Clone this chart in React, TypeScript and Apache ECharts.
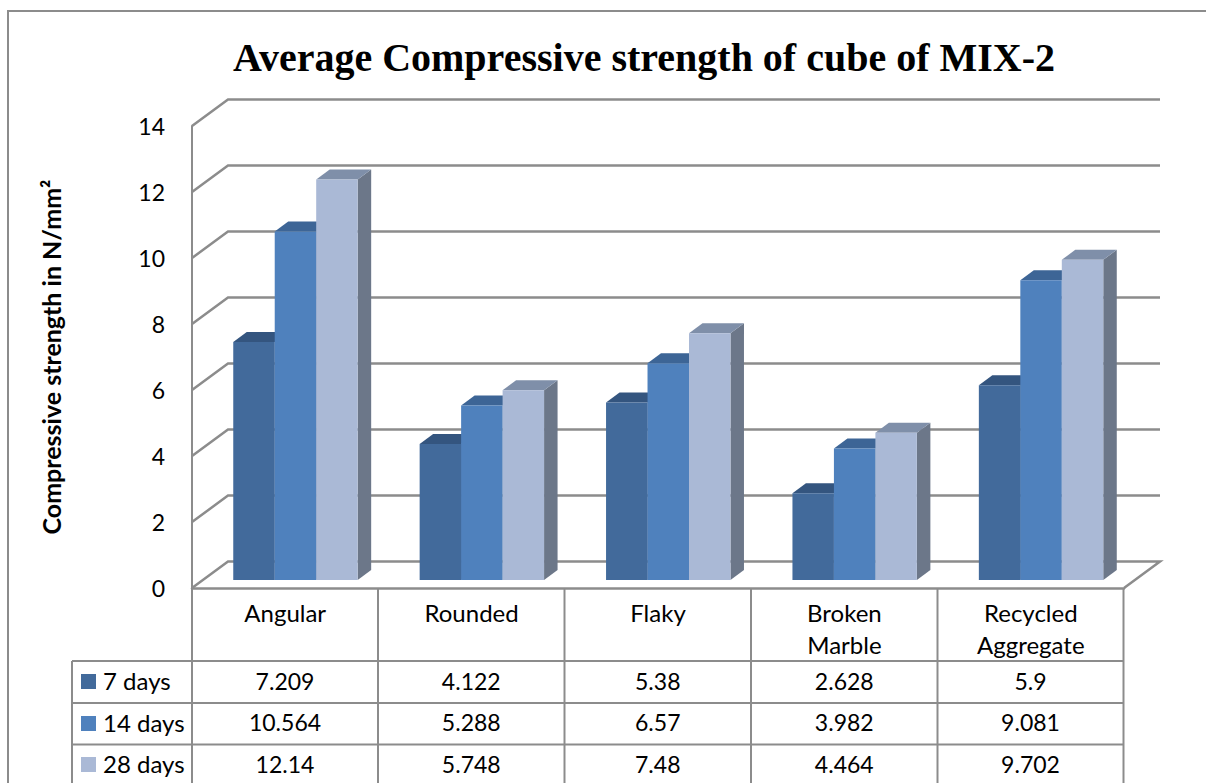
import React, { useEffect, useRef } from "react";
import * as echarts from "echarts";

const categories = ["Angular", "Rounded", "Flaky", "Broken\nMarble", "Recycled\nAggregate"];
const seriesNames = ["7 days", "14 days", "28 days"];
const days7 = [7.209, 4.122, 5.38, 2.628, 5.9];
const days14 = [10.564, 5.288, 6.57, 3.982, 9.081];
const days28 = [12.14, 5.748, 7.48, 4.464, 9.702];
const tableText7 = ["7.209", "4.122", "5.38", "2.628", "5.9"];
const tableText14 = ["10.564", "5.288", "6.57", "3.982", "9.081"];
const tableText28 = ["12.14", "5.748", "7.48", "4.464", "9.702"];
const yTicks = [0, 2, 4, 6, 8, 10, 12, 14];

const FONT = "Lato";
const LINE = "#8c8c8c";
const GL = 192, GR = 1124, GT = 126, GB = 588;
const DX = 36, DY = 26.4;
const frontColors = ["#426a9b", "#4f81bd", "#aab9d6"];
const topColors = ["#34557f", "#3d6596", "#7f8fa9"];
const sideColors = ["#34507a", "#3d6596", "#6c7789"];
const columnXs = [192, 378, 564.5, 751, 937.5, 1123.5];
const rowYs = [661, 703, 744.5];
const rowCentres = [680.5, 722, 763.5];

function wallRender(params: any, api: any) {
  const cs = params.coordSys;
  const y = api.coord([0, api.value(0)])[1];
  const x0 = cs.x;
  const x1 = cs.x + cs.width;
  const pts = [[x0, y], [x0 + DX, y - DY], [x1 + DX, y - DY]];
  if (api.value(0) === 0) pts.push([x1, y]);
  return {
    type: "polyline",
    shape: { points: pts },
    style: { stroke: LINE, lineWidth: 2.5, fill: "none" },
  };
}

function barRender(idx: number) {
  return (_params: any, api: any) => {
    const cat = api.value(0);
    const p = api.coord([cat, api.value(1)]);
    const base = api.coord([cat, 0]);
    const band = api.size([1, 0])[0];
    const w = band * 0.2225;
    const left = p[0] - band * 0.5 + band * 0.2213 + idx * w;
    const right = left + w;
    const top = p[1] - 8;
    const bottom = base[1] - 8;
    const dx = 13.5, dy = 10;
    return {
      type: "group",
      children: [
        {
          type: "polygon",
          shape: { points: [[right, top], [right + dx, top - dy], [right + dx, bottom - dy], [right, bottom]] },
          style: { fill: sideColors[idx] },
        },
        {
          type: "polygon",
          shape: { points: [[left, top], [left + dx, top - dy], [right + dx, top - dy], [right, top]] },
          style: { fill: topColors[idx] },
        },
        {
          type: "rect",
          shape: { x: left, y: top, width: w, height: bottom - top },
          style: { fill: frontColors[idx] },
        },
      ],
    };
  };
}

function line(x1: number, y1: number, x2: number, y2: number, lineWidth = 2) {
  return { type: "line", shape: { x1, y1, x2, y2 }, style: { stroke: LINE, lineWidth }, silent: true };
}

function cellText(x: number, y: number, text: string, align = "center", size = 23) {
  return {
    type: "text",
    x,
    y,
    style: { text, fill: "#000", font: `${size}px ${FONT}`, align, verticalAlign: "middle" },
    silent: true,
  };
}

export default function App() {
  const ref = useRef<HTMLDivElement>(null);
  useEffect(() => {
    const chart = echarts.init(ref.current!, undefined, { renderer: "svg" });
    const rows = [tableText7, tableText14, tableText28];
    const graphic: any[] = [
      { type: "rect", shape: { x: 8, y: 11, width: 1300, height: 900 }, style: { fill: "none", stroke: LINE, lineWidth: 2 } },
      ...columnXs.map((x) => line(x, 588, x, 783)),
      line(72, 661, 72, 783),
      ...rowYs.map((y) => line(72, y, 1123.5, y)),
    ];
    rows.forEach((vals, r) => {
      graphic.push({
        type: "rect",
        shape: { x: 81, y: [674, 716, 757][r], width: 15, height: 15 },
        style: { fill: frontColors[r] },
      });
      graphic.push(cellText(103, rowCentres[r], seriesNames[r], "left", 24));
      vals.forEach((t, c) => {
        graphic.push(cellText((columnXs[c] + columnXs[c + 1]) / 2, rowCentres[r], t));
      });
    });
    chart.setOption({
      animation: false,
      backgroundColor: "#fff",
      title: {
        text: "Average Compressive strength of cube of MIX-2",
        left: 639,
        top: 32,
        textAlign: "center",
        textStyle: { fontFamily: "Liberation Serif", fontWeight: "bold", fontSize: 40, color: "#000" },
      },
      grid: { left: GL, right: 1206 - GR, top: GT, bottom: 783 - GB },
      xAxis: {
        type: "category",
        data: categories,
        axisLine: { show: true, lineStyle: { color: LINE, width: 2.5 } },
        axisTick: { show: false },
        axisLabel: { color: "#000", fontFamily: FONT, fontSize: 24, lineHeight: 32, margin: 8, interval: 0, verticalAlign: "top" },
      },
      yAxis: {
        type: "value",
        min: 0,
        max: 14,
        interval: 2,
        name: "Compressive strength in N/mm²",
        nameLocation: "middle",
        nameGap: 129,
        nameTextStyle: { color: "#000", fontFamily: FONT, fontWeight: "bold", fontSize: 25 },
        axisLine: { show: true, lineStyle: { color: LINE, width: 2 } },
        axisTick: { show: false },
        splitLine: { show: false },
        axisLabel: { color: "#000", fontFamily: FONT, fontSize: 23, margin: 27 },
      },
      graphic,
      series: [
        {
          type: "custom",
          name: "walls",
          coordinateSystem: "cartesian2d",
          data: yTicks.map((v) => [v]),
          encode: { y: 0 },
          renderItem: wallRender,
          silent: true,
          clip: false,
          z: 1,
        },
        ...[days7, days14, days28].map((vals, i) => ({
          type: "custom",
          name: seriesNames[i],
          coordinateSystem: "cartesian2d",
          data: vals.map((v, c) => [c, v]),
          encode: { x: 0, y: 1 },
          renderItem: barRender(i),
          clip: false,
          z: 2 + i,
        })),
      ],
    });
    return () => chart.dispose();
  }, []);
  return <div ref={ref} style={{ position: "absolute", left: 0, top: 0, width: 1206, height: 783 }} />;
}
